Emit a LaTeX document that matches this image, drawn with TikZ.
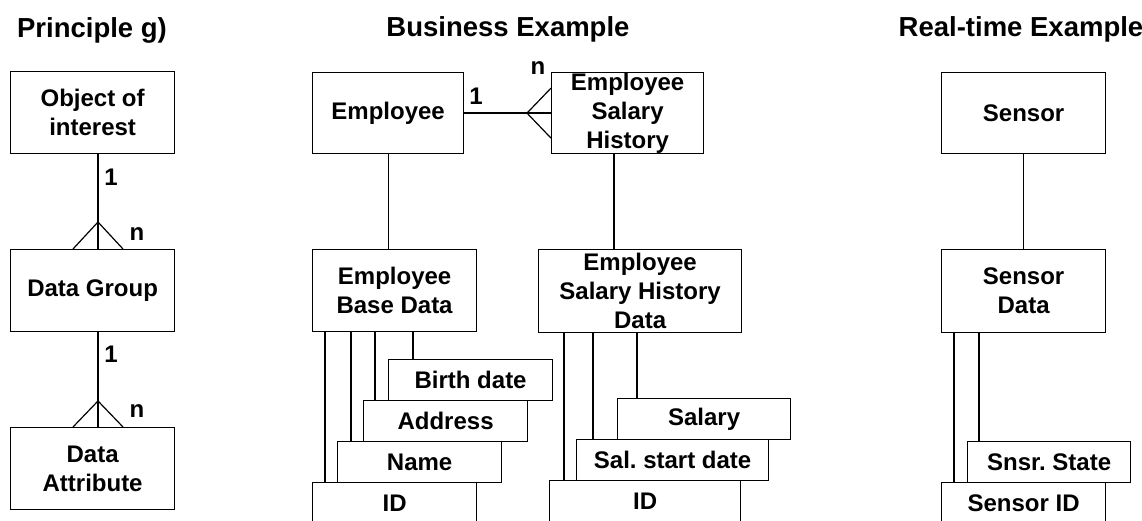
\documentclass[tikz,border=0pt]{standalone}
\usepackage{fontspec}
\setmainfont{Liberation Sans}
\usepackage{tikz}
\frenchspacing

\begin{document}
\begin{tikzpicture}[x=1pt, y=-1pt, line width=1.2pt,
    title/.style={anchor=base, inner sep=0pt, font=\fontsize{27.5}{32}\selectfont\bfseries},
    lbl/.style={inner sep=0pt, font=\fontsize{24}{29}\selectfont\bfseries},
    box/.style={draw, inner sep=0pt, anchor=north west, align=center,
        font=\fontsize{24}{29}\selectfont\bfseries},
    attr/.style={box, minimum height=41pt}]
    \useasboundingbox (0, 0) rectangle (1142, 521);
    % titles
    \node [title] (t0) at (92, 38) {Principle g)};
    \node [title] (t1) at (508, 37) {Business Example};
    \node [title] (t2) at (1021, 37) {Real-time Example};
    % principle g)
    \node [box, minimum width=164pt, minimum height=82pt] (0) at (10, 71) {Object of\\interest};
    \node [box, minimum width=164pt, minimum height=82pt] (1) at (10, 249) {Data Group};
    \node [box, minimum width=164pt, minimum height=82pt] (2) at (10, 427) {Data\\Attribute};
    \coordinate (c0) at (98, 222);
    \coordinate (c1) at (98, 401);
    \draw (0.south -| c0) to (1.north -| c0);
    \draw (1.north -| c0) ++(-25, 0) -- (c0) -- ++(25, 27);
    \draw (1.south -| c1) to (2.north -| c1);
    \draw (2.north -| c1) ++(-25, 0) -- (c1) -- ++(25, 26);
    \node [lbl] (l0) at (111, 177) {1};
    \node [lbl] (l1) at (137, 234) {n};
    \node [lbl] (l2) at (111, 354) {1};
    \node [lbl] (l3) at (137, 411) {n};
    % business example
    \node [box, minimum width=151pt, minimum height=81pt] (3) at (312, 72) {Employee};
    \node [box, minimum width=152pt, minimum height=81pt] (4) at (551, 72) {Employee\\Salary\\History};
    \coordinate (c2) at ([xshift=-24pt]4.west);
    \draw (3.east) to (4.west);
    \draw (4.west) ++(0, -25) -- (c2) -- ++(24, 25);
    \node [lbl] (l4) at (476, 96) {1};
    \node [lbl] (l5) at (538, 68) {n};
    \node [box, minimum width=164pt, minimum height=82pt] (5) at (312, 249) {Employee\\Base Data};
    \node [box, minimum width=203pt, minimum height=83pt] (6) at (538, 249) {Employee\\Salary History\\Data};
    \draw (3.south) to (3.south |- 5.north);
    \draw ([xshift=63pt]4.south west) to ([xshift=63pt]4.south west |- 6.north);
    % base data attributes
    \node [attr, minimum width=164pt] (7) at (388, 359) {Birth date};
    \node [attr, minimum width=164pt] (8) at (363, 400) {Address};
    \node [attr, minimum width=164pt] (9) at (337, 441) {Name};
    \node [attr, minimum width=164pt] (10) at (312, 482) {ID};
    \draw ([xshift=25pt]7.north west) to ([xshift=25pt]7.north west |- 5.south);
    \draw ([xshift=12pt]8.north west) to ([xshift=12pt]8.north west |- 5.south);
    \draw ([xshift=14pt]9.north west) to ([xshift=14pt]9.north west |- 5.south);
    \draw ([xshift=13pt]10.north west) to ([xshift=13pt]10.north west |- 5.south);
    % salary history attributes
    \node [attr, minimum width=173pt] (11) at (617, 398) {Salary};
    \node [attr, minimum width=192pt] (12) at (576, 439) {Sal. start date};
    \node [attr, minimum width=191pt] (13) at (549, 480) {ID};
    \draw ([xshift=20pt]11.north west) to ([xshift=20pt]11.north west |- 6.south);
    \draw ([xshift=17pt]12.north west) to ([xshift=17pt]12.north west |- 6.south);
    \draw ([xshift=15pt]13.north west) to ([xshift=15pt]13.north west |- 6.south);
    % real-time example
    \node [box, minimum width=164pt, minimum height=81pt] (14) at (941, 72) {Sensor};
    \node [box, minimum width=164pt, minimum height=83pt] (15) at (941, 249) {Sensor\\Data};
    \draw (14.south) to (15.north);
    \node [attr, minimum width=163pt] (16) at (967, 441) {Snsr. State};
    \node [attr, minimum width=164pt] (17) at (941, 482) {Sensor ID};
    \draw ([xshift=12pt]16.north west) to ([xshift=12pt]16.north west |- 15.south);
    \draw ([xshift=13pt]17.north west) to ([xshift=13pt]17.north west |- 15.south);
\end{tikzpicture}
\end{document}
